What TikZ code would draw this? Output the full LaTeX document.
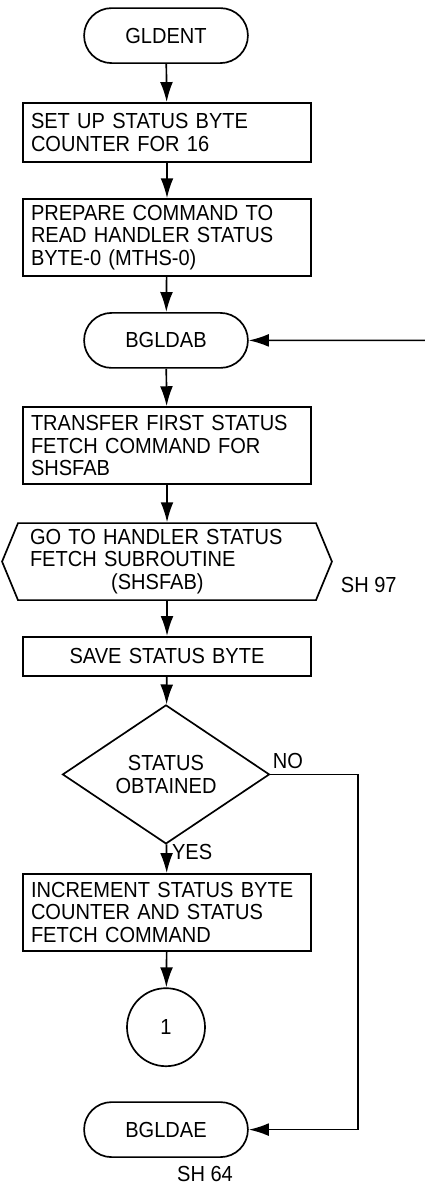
\documentclass[tikz,border=0pt]{standalone}
\usepackage{fontspec}
\setmainfont{Liberation Sans}[FakeStretch=0.92]
\usetikzlibrary{shapes.misc, shapes.geometric, shapes.symbols, arrows.meta}

\begin{document}
\begin{tikzpicture}[
  line width=1.2pt,
  every node/.style={font=\fontsize{15.5}{16}\selectfont},
  terminal/.style={draw, rounded rectangle, minimum width=4.33cm, minimum height=1.375cm},
  process/.style={draw, rectangle, text width=6.8cm, inner xsep=0.2cm, minimum height=1.925cm, align=left},
  subroutine/.style={draw, signal, signal to=west and east, signal pointer angle=135,
    text width=6.85cm, inner xsep=0.3cm, minimum height=1.925cm, align=left},
  decision/.style={draw, diamond, minimum width=5.175cm, minimum height=3.075cm, inner sep=0pt, align=center},
  connector/.style={draw, circle, minimum size=1.95cm},
  flow/.style={-{Latex[length=0.5cm, width=0.32cm]}}
]

\useasboundingbox (0,0) rectangle (10.625,-29.875);

\node[terminal] (gldent) at (4.15,-0.89) {GLDENT};
\node[process, minimum height=1.475cm] (setup) at (4.175,-3.31) {SET UP STATUS BYTE\\COUNTER FOR 16};
\node[process] (prepare) at (4.175,-5.94) {PREPARE COMMAND TO\\READ HANDLER STATUS\\BYTE-0 (MTHS-0)};
\node[terminal] (bgldab) at (4.15,-8.51) {BGLDAB};
\node[process] (transfer) at (4.175,-11.14) {TRANSFER FIRST STATUS\\FETCH COMMAND FOR\\SHSFAB};
\node[subroutine] (goto) at (4.175,-14.04) {GO TO HANDLER STATUS\\FETCH SUBROUTINE\\\hspace*{2.03cm}(SHSFAB)};
\node (sh97) at (9.22,-14.63) {SH 97};
\node[process, minimum height=0.975cm, align=center] (save) at (4.175,-16.41) {SAVE STATUS BYTE};
\node[decision] (status) at (4.15,-19.36) {STATUS\\OBTAINED};
\node[process] (increment) at (4.175,-22.81) {INCREMENT STATUS BYTE\\COUNTER AND STATUS\\FETCH COMMAND};
\node[connector] (one) at (4.15,-25.68) {1};
\node[terminal] (bgldae) at (4.15,-28.24) {BGLDAE};
\node (sh64) at (5.125,-29.35) {SH 64};

% ramo NO
\coordinate (loopin) at (10.625,-8.51);
\coordinate (noturn) at (8.95,-19.36);

\draw[flow] (gldent) -- (setup);
\draw[flow] (setup) -- (prepare);
\draw[flow] (prepare) -- (bgldab);
\draw[flow] (loopin) -- (bgldab);
\draw[flow] (bgldab) -- (transfer);
\draw[flow] (transfer) -- (goto);
\draw[flow] (goto) -- (save);
\draw[flow] (save) -- (status);
\draw[flow] (status) -- node[right, pos=0.25] {YES} (increment);
\draw[flow] (status.east) -- node[above, pos=0.2] {NO} (noturn) |- (bgldae.east);

\draw[flow] (increment) -- (one);

\end{tikzpicture}
\end{document}
